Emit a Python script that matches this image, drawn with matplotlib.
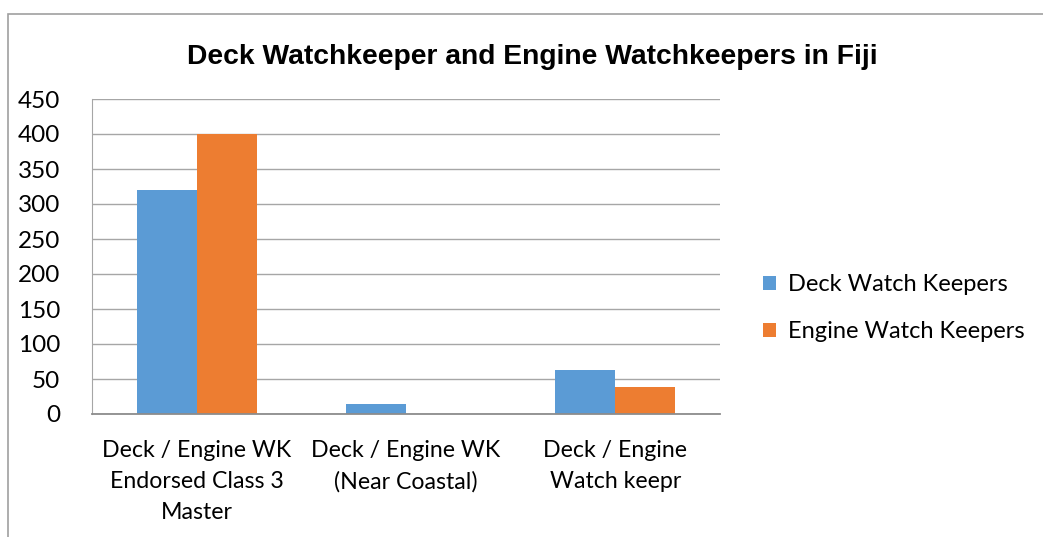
import numpy as np
import matplotlib
matplotlib.use('Agg')
from matplotlib import pyplot as plt
from matplotlib.patches import Rectangle

categories = ['Deck / Engine WK\nEndorsed Class 3\nMaster',
              'Deck / Engine WK\n(Near Coastal)',
              'Deck / Engine\nWatch keepr']
deck = [320, 15, 63]
engine = [400, 0, 38]
series_names = ['Deck Watch Keepers', 'Engine Watch Keepers']
colors = ['#5B9BD5', '#ED7D31']
yticks = [0, 50, 100, 150, 200, 250, 300, 350, 400, 450]

plt.rcParams['font.family'] = ['Lato', 'DejaVu Sans']

W, H = 1043, 537
fig = plt.figure(figsize=(W / 100, H / 100), dpi=100)
# outer chart border (runs off the right and bottom edges)
fig.patches.append(Rectangle((7.5 / W, -0.1), 1.2, 1.1 - 13.5 / H,
                             transform=fig.transFigure, fill=False,
                             edgecolor='#A0A0A0', linewidth=1.2))
ax = fig.add_axes([92 / W, 1 - 414 / H, 628 / W, 315 / H])

x = np.arange(len(categories))
w = 0.287
ax.bar(x - w / 2, deck, w, color=colors[0], label=series_names[0])
ax.bar(x + w / 2, engine, w, color=colors[1], label=series_names[1])

ax.set_xlim(-0.5, len(categories) - 0.5)
ax.set_ylim(0, 450)
ax.set_yticks(yticks)
ax.set_xticks(x)
ax.set_xticklabels(categories, fontsize=16.7, linespacing=1.58)
ax.tick_params(axis='y', length=0, labelsize=17.5, pad=23)
ax.tick_params(axis='x', length=0, pad=19)
ax.grid(axis='y', color='#A6A6A6', linewidth=1)
ax.set_axisbelow(True)
for s in ['top', 'right']:
    ax.spines[s].set_visible(False)
ax.spines['left'].set_color('#A6A6A6')
ax.spines['bottom'].set_color('#8C8C8C')
ax.spines['bottom'].set_linewidth(1.3)

fig.text(532 / W, 1 - 57 / H,
         'Deck Watchkeeper and Engine Watchkeepers in Fiji',
         ha='center', va='center', fontsize=20.3, fontweight='bold',
         family='Liberation Sans')

fig.legend(loc='center left', bbox_to_anchor=(742 / W, 1 - 308 / H),
           frameon=False, fontsize=17, handlelength=0.55, handleheight=0.55,
           handletextpad=0.5, labelspacing=1.1)

fig.savefig('out.png', dpi=100)
